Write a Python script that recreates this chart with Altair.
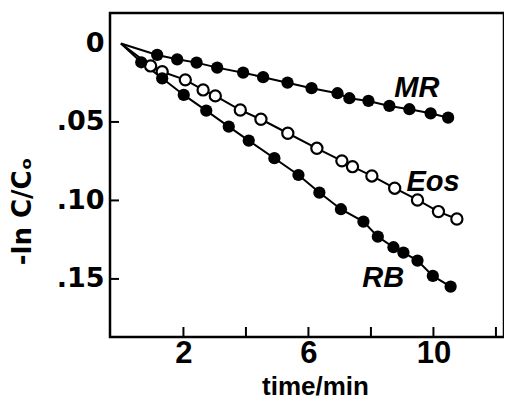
import altair as alt
import pandas as pd

# Series data (time in min, -ln C/Co)
mr_t = [1.16, 1.80, 2.42, 3.08, 3.91, 4.55, 5.33, 6.10, 6.93, 7.31, 7.92, 8.59, 9.23, 9.91, 10.47]
mr_v = [0.0073, 0.0101, 0.0122, 0.0154, 0.0186, 0.0215, 0.0250, 0.0285, 0.0317, 0.0349, 0.0366, 0.0398, 0.0419, 0.0445, 0.0473]

eos_t = [0.95, 1.32, 2.06, 2.63, 3.02, 3.82, 4.48, 5.34, 6.27, 7.07, 7.41, 8.03, 8.76, 9.49, 10.16, 10.75]
eos_v = [0.0143, 0.0180, 0.0232, 0.0296, 0.0334, 0.0424, 0.0483, 0.0572, 0.0668, 0.0748, 0.0785, 0.0844, 0.0922, 0.0997, 0.1071, 0.1118]

rb_t = [0.65, 1.32, 2.01, 2.73, 3.45, 4.09, 4.91, 5.68, 6.35, 7.04, 7.76, 8.22, 8.72, 9.04, 9.49, 9.98, 10.55]
rb_v = [0.0120, 0.0222, 0.0328, 0.0428, 0.0530, 0.0619, 0.0731, 0.0838, 0.0950, 0.1056, 0.1135, 0.1231, 0.1298, 0.1332, 0.1383, 0.1481, 0.1549]

series_names = ["MR", "Eos", "RB"]
label_t = [9.47, 9.99, 8.39]
label_v = [0.0285, 0.0880, 0.1494]

x_ticks = [2, 4, 6, 8, 10, 12]
x_labels = [2, 6, 10]
y_ticks = [0.05, 0.10, 0.15]
y_labels = [0, 0.05, 0.10, 0.15]

W, H = 394, 324
x_domain = [-0.35, -0.35 + W / 31.25]
y_domain = [-0.0194, 0.187]

rows = []
for name, ts, vs in [("MR", mr_t, mr_v), ("Eos", eos_t, eos_v), ("RB", rb_t, rb_v)]:
    rows.append({"series": name, "t": 0.0, "v": 0.0, "pt": False})
    for t, v in zip(ts, vs):
        rows.append({"series": name, "t": t, "v": v, "pt": True})
df = pd.DataFrame(rows)
pts = df[df.pt]

xs = alt.Scale(domain=x_domain, nice=False, zero=False)
ys = alt.Scale(domain=y_domain, nice=False, zero=False, reverse=True)

FONT = "Liberation Sans"

lines = alt.Chart(df).mark_line(color="black", strokeWidth=2).encode(
    x=alt.X("t:Q", scale=xs, axis=alt.Axis(
        values=x_labels, ticks=False, domain=False, grid=False,
        labelFont=FONT, labelFontSize=31, labelFontWeight="bold", labelColor="black",
        labelPadding=1, title="time/min", titleFont=FONT, titleFontSize=26,
        titleFontWeight="bold", titleColor="black",
        titleX=205, titleY=57, titleAlign="center", titleBaseline="alphabetic")),
    y=alt.Y("v:Q", scale=ys, axis=alt.Axis(
        values=y_labels, ticks=False, domain=False, grid=False,
        labelExpr="datum.value == 0 ? '0' : replace(format(datum.value, '.2f'), '0.', '.')",
        labelFont="DejaVu Sans", labelFontSize=27, labelFontWeight="bold", labelColor="black",
        labelPadding=6, title="-ln C/Cₒ", titleFont="DejaVu Sans", titleFontSize=26,
        titleFontWeight="bold", titleColor="black", titleAngle=270,
        titleX=-88, titleY=198, titleAlign="center", titleBaseline="middle")),
    detail="series:N",
    order="t:Q",
)

filled = alt.Chart(pts[pts.series != "Eos"]).mark_point(
    shape="circle", filled=True, color="black", size=150, opacity=1
).encode(x=alt.X("t:Q", scale=xs), y=alt.Y("v:Q", scale=ys))

opened = alt.Chart(pts[pts.series == "Eos"]).mark_point(
    shape="circle", filled=True, fill="white", stroke="black", strokeWidth=2.2, size=125, opacity=1
).encode(x=alt.X("t:Q", scale=xs), y=alt.Y("v:Q", scale=ys))

lab_df = pd.DataFrame({"name": series_names, "t": label_t, "v": label_v})
labels = alt.Chart(lab_df).mark_text(
    font=FONT, fontSize=29, fontStyle="italic", fontWeight="bold", color="black",
    align="center", baseline="middle"
).encode(x=alt.X("t:Q", scale=xs), y=alt.Y("v:Q", scale=ys), text="name:N")

xt = alt.Chart(pd.DataFrame({"t": x_ticks})).mark_rule(color="black", strokeWidth=2).encode(
    x=alt.X("t:Q", scale=xs), y=alt.value(H), y2=alt.value(H - 10))
yt = alt.Chart(pd.DataFrame({"v": y_ticks})).mark_rule(color="black", strokeWidth=2).encode(
    y=alt.Y("v:Q", scale=ys), x=alt.value(0), x2=alt.value(9))

chart = alt.layer(lines, xt, yt, opened, filled, labels).properties(
    width=W, height=H,
    autosize=alt.AutoSizeParams(type="none"),
    padding={"left": 102, "top": 5, "right": 0, "bottom": 64},
    background="white",
).configure_view(stroke="black", strokeWidth=2.5)

chart.save("out.html", embed_options={"renderer": "svg", "actions": False})
